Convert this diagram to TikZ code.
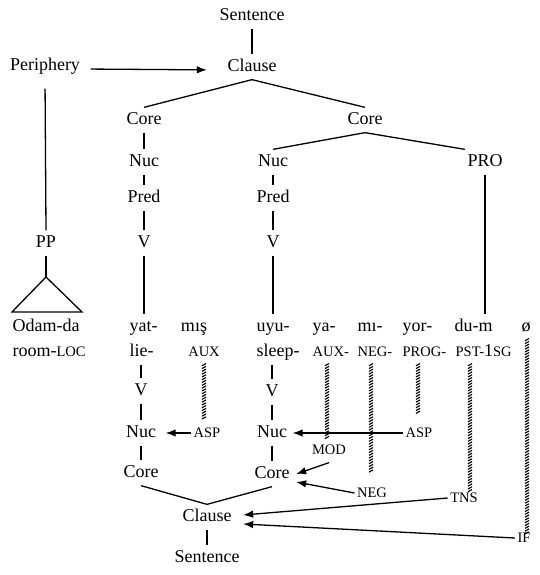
\documentclass[tikz,border=0pt]{standalone}
\usepackage{fontspec}
\setmainfont{Liberation Serif}
\usetikzlibrary{arrows.meta,decorations.markings,calc}
\newcommand\lilcap[1]{{\fontsize{14.5}{16}\selectfont #1}}
\begin{document}
\begin{tikzpicture}[x=1pt,y=-1pt,line width=1.3pt,
  lbl/.style={font=\fontsize{18}{20}\selectfont, inner xsep=2pt, inner ysep=0pt, text height=13pt, text depth=4pt, minimum height=24pt},
  sml/.style={lbl, font=\fontsize{14.5}{16}\selectfont},
  wrd/.style={lbl, anchor=west, inner xsep=0pt},
  arr/.style={-{Latex[length=10pt,width=7.5pt]}},
  hatch/.style={decoration={markings, mark=between positions 0 and 1 step 2.8pt with {\draw[line width=1.15pt] (1.1pt,-2pt) -- (-1.1pt,2pt);}}, decorate}]
\useasboundingbox (0,0) rectangle (539,575);
% upper tree
\node[lbl] (sent1) at (252,16) {Sentence};
\node[lbl] (clause1) at (252,67) {Clause};
\node[lbl] (periph) at (45,66) {Periphery};
\node[lbl] (coreL) at (144,120) {Core};
\node[lbl] (coreR) at (365,120) {Core};
\node[lbl] (nucL) at (144,162) {Nuc};
\node[lbl] (predL) at (144,198) {Pred};
\node[lbl] (vL) at (144,243) {V};
\node[lbl] (nucM) at (273,162) {Nuc};
\node[lbl] (predM) at (273,198) {Pred};
\node[lbl] (vM) at (273,243) {V};
\node[lbl] (pro) at (485,162) {PRO};
\node[lbl] (pp) at (46,243) {PP};
% words and glosses
\node[wrd] (odam) at (12,327) {Odam-da};
\node[wrd] (roomloc) at (12,352) {room-\lilcap{LOC}};
\node[wrd] (yat) at (129,327) {yat-};
\node[wrd] (lie) at (129,352) {lie-};
\node[lbl] (mis) at (194,327) {mış};
\node[sml] (auxA) at (204,352) {AUX};
\node[wrd] (uyu) at (256,327) {uyu-};
\node[wrd] (sleep) at (256,352) {sleep-};
\node[wrd] (ya) at (312,327) {ya-};
\node[wrd] (auxB) at (312,352) {\lilcap{AUX-}};
\node[wrd] (mi) at (357,327) {mı-};
\node[wrd] (negA) at (357,352) {\lilcap{NEG-}};
\node[wrd] (yor) at (402,327) {yor-};
\node[wrd] (prog) at (402,352) {\lilcap{PROG-}};
\node[wrd] (dum) at (454,327) {du-m};
\node[wrd] (pst) at (455,352) {\lilcap{PST-}1\lilcap{SG}};
\node[lbl] (oslash) at (526,327) {ø};
% lower tree
\node[lbl] (vLL) at (141,391) {V};
\node[lbl] (nucLL) at (141,433) {Nuc};
\node[lbl] (coreLL) at (141,473) {Core};
\node[lbl] (vMM) at (272,392) {V};
\node[lbl] (nucMM) at (272,433) {Nuc};
\node[lbl] (coreMM) at (272,474) {Core};
\node[lbl] (clause2) at (207,517) {Clause};
\node[lbl] (sent2) at (207,558) {Sentence};
\node[sml] (aspA) at (207,433) {ASP};
\node[sml] (aspB) at (419,433) {ASP};
\node[sml] (mod) at (329,450) {MOD};
\node[sml] (negB) at (372,493) {NEG};
\node[sml] (tns) at (464,498) {TNS};
\node[sml] (ifn) at (524,538) {IF};
% free ends
\coordinate (apex) at (46,277);
\coordinate (hA) at (204,418);
\coordinate (hB) at (327,440);
\coordinate (hC) at (371,473);
\coordinate (hD) at (418,415);
\coordinate (hE) at (470,492);
\coordinate (hF) at (527,535);
% upper connectors
\draw (sent1) -- (clause1);
\draw[arr, shorten <=8pt, shorten >=18pt] ([yshift=-3pt]periph.east) -- ([yshift=-3pt]clause1.west);
\draw (clause1.south) -- (coreL.north);
\draw (clause1.south) -- (coreR.north);
\draw (coreL) -- (nucL);
\draw (nucL) -- (predL);
\draw (predL) -- (vL);
\draw (vL.south) -- (vL.south |- yat.north);
\draw (coreR.south) -- (nucM.north);
\draw (coreR.south) -- (pro.north west);
\draw (nucM) -- (predM);
\draw (predM) -- (vM);
\draw (vM.south) -- (vM.south |- uyu.north);
\draw (pro.south) -- (pro.south |- dum.north);
\draw[shorten <=10pt] (periph.south) -- (pp.north);
\draw (pp.south) -- (apex);
\draw (apex) -- (12,312) -- (82,312) -- cycle;
% lower connectors
\draw (lie.south -| vLL.north) -- (vLL.north);
\draw (vLL) -- (nucLL);
\draw (nucLL) -- (coreLL);
\draw (sleep.south -| vMM.north) -- (vMM.north);
\draw (vMM) -- (nucMM);
\draw (nucMM) -- (coreMM);
\draw (coreLL.south) -- (clause2.north) -- (coreMM.south);
\draw (clause2) -- (sent2);
\draw[arr, shorten >=7pt] (aspA.west) -- (nucLL.east);
\draw[arr, shorten >=3pt] (aspB.west) -- (nucMM.east);
\draw[arr] (mod.south) -- ([xshift=4pt]coreMM.east);
\draw[arr] (negB.west) -- ([xshift=4pt,yshift=-8pt]coreMM.east);
\draw[arr] (tns.west) -- ([xshift=9pt,yshift=2pt]clause2.east);
\draw[arr] (ifn.west) -- ([xshift=9pt,yshift=-7pt]clause2.east);
% hatched lines
\draw[hatch] (auxA.south) -- (hA);
\draw[hatch] (auxB.south -| hB) -- (hB);
\draw[hatch] (negA.south -| hC) -- (hC);
\draw[hatch] (prog.south -| hD) -- (hD);
\draw[hatch] (pst.south -| hE) -- (hE);
\draw[hatch] (oslash.south -| hF) -- (hF);
\end{tikzpicture}
\end{document}
